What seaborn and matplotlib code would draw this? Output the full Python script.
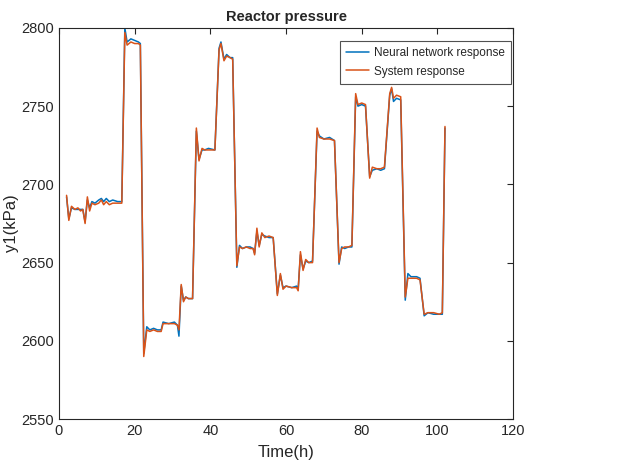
import numpy as np
import pandas as pd
import matplotlib
matplotlib.use("Agg")
import matplotlib.pyplot as plt
import seaborn as sns

# time points (h) and pressure values (kPa)
time_h = [2.0, 2.6, 3.3, 4.2, 5.0, 5.7, 6.3, 6.9, 7.5, 8.1, 8.7, 9.5, 10.5, 11.2, 11.8,
          12.5, 13.3, 14.2, 15.5, 16.6, 17.4, 18.0, 19.0, 20.0, 21.0, 21.5, 22.4, 23.2,
          24.0, 25.0, 26.0, 27.0, 27.5, 29.0, 30.5, 31.3, 31.7, 32.3, 32.9, 33.5, 34.2,
          35.3, 36.3, 37.0, 37.8, 38.5, 39.5, 41.2, 42.3, 42.8, 43.6, 44.3, 45.2, 45.9,
          47.0, 47.7, 48.5, 49.5, 50.5, 51.3, 51.7, 52.3, 52.9, 53.6, 54.4, 55.5, 56.6,
          57.7, 58.5, 59.2, 60.0, 61.5, 62.8, 63.2, 63.8, 64.5, 65.2, 66.0, 67.0, 68.2,
          68.8, 70.0, 71.5, 72.8, 74.0, 74.7, 75.5, 76.5, 77.4, 78.4, 79.0, 80.0, 81.0,
          82.1, 82.8, 84.0, 85.0, 86.0, 87.4, 87.9, 88.4, 89.2, 90.3, 91.5, 92.2, 93.0,
          94.5, 95.4, 96.5, 97.5, 99.0, 100.5, 101.3, 102.0]

system_resp = [2693, 2677, 2686, 2684, 2685, 2683, 2684, 2675, 2692, 2683, 2688, 2687, 2688,
               2690, 2687, 2689, 2687, 2688, 2688, 2688, 2797, 2789, 2791, 2790, 2790, 2789,
               2590, 2607, 2606, 2607, 2606, 2606, 2611, 2611, 2611, 2610, 2607, 2636, 2625,
               2628, 2627, 2627, 2736, 2715, 2723, 2722, 2722, 2722, 2786, 2790, 2779, 2782,
               2781, 2780, 2648, 2660, 2659, 2660, 2659, 2659, 2655, 2672, 2660, 2669, 2666,
               2667, 2666, 2629, 2643, 2633, 2635, 2634, 2634, 2632, 2657, 2645, 2652, 2650,
               2650, 2736, 2730, 2729, 2729, 2728, 2650, 2659, 2660, 2660, 2661, 2758, 2751,
               2752, 2751, 2704, 2711, 2710, 2710, 2711, 2758, 2762, 2755, 2757, 2756, 2628,
               2640, 2640, 2640, 2639, 2617, 2618, 2618, 2617, 2618, 2737]

nn_resp = [2692, 2678, 2685, 2684, 2684, 2684, 2684, 2676, 2690, 2685, 2689, 2688, 2690,
           2691, 2689, 2691, 2689, 2690, 2689, 2689, 2800, 2791, 2793, 2792, 2791, 2790,
           2592, 2609, 2607, 2608, 2607, 2607, 2612, 2611, 2612, 2610, 2603, 2635, 2626,
           2628, 2627, 2627, 2734, 2716, 2722, 2722, 2723, 2722, 2787, 2791, 2780, 2783,
           2781, 2781, 2647, 2661, 2659, 2660, 2660, 2659, 2656, 2670, 2661, 2668, 2667,
           2666, 2666, 2630, 2642, 2634, 2635, 2634, 2635, 2633, 2655, 2646, 2651, 2650,
           2651, 2734, 2731, 2729, 2730, 2728, 2649, 2660, 2659, 2660, 2660, 2756, 2750,
           2751, 2750, 2705, 2709, 2710, 2709, 2710, 2757, 2761, 2753, 2755, 2754, 2626,
           2643, 2641, 2641, 2640, 2616, 2618, 2617, 2617, 2617, 2736]

series_names = ["Neural network response", "System response"]
colors = ["#0072BD", "#D95319"]

df = pd.concat([
    pd.DataFrame({"t": time_h, "y": nn_resp, "series": series_names[0]}),
    pd.DataFrame({"t": time_h, "y": system_resp, "series": series_names[1]}),
], ignore_index=True)

sns.set_style("white")
plt.rcParams["font.family"] = ["Liberation Sans", "DejaVu Sans"]

fig = plt.figure(figsize=(6.17, 4.73), dpi=100)
ax = fig.add_axes([0.0956, 0.114, 0.736, 0.827])

sns.lineplot(data=df, x="t", y="y", hue="series", palette=dict(zip(series_names, colors)),
             sort=False, estimator=None, linewidth=1.1, ax=ax)

ax.set_xlim(0, 120)
ax.set_ylim(2550, 2800)
ax.set_xticks(np.arange(0, 121, 20))
ax.set_yticks(np.arange(2550, 2801, 50))
ax.tick_params(direction="in", length=4, width=0.8, top=True, right=True,
               labelsize=10.5, colors="#262626", labelcolor="#262626")
for s in ax.spines.values():
    s.set_linewidth(0.8)
    s.set_color("#262626")
    s.set_visible(True)

ax.set_xlabel("Time(h)", fontsize=12, color="#262626", labelpad=5)
ax.set_ylabel("y1(kPa)", fontsize=12, color="#262626", labelpad=2)
ax.set_title("Reactor pressure", fontsize=10.5, fontweight="bold", pad=5)

leg = ax.legend(loc="upper right", bbox_to_anchor=(0.995, 0.966), fontsize=8.5,
                handlelength=1.9, frameon=True, fancybox=False, borderpad=0.5,
                labelspacing=0.55, handletextpad=0.45, borderaxespad=0)
leg.get_frame().set_edgecolor("#262626")
leg.get_frame().set_linewidth(0.8)
leg.set_title(None)

fig.savefig("out.png", dpi=100)
